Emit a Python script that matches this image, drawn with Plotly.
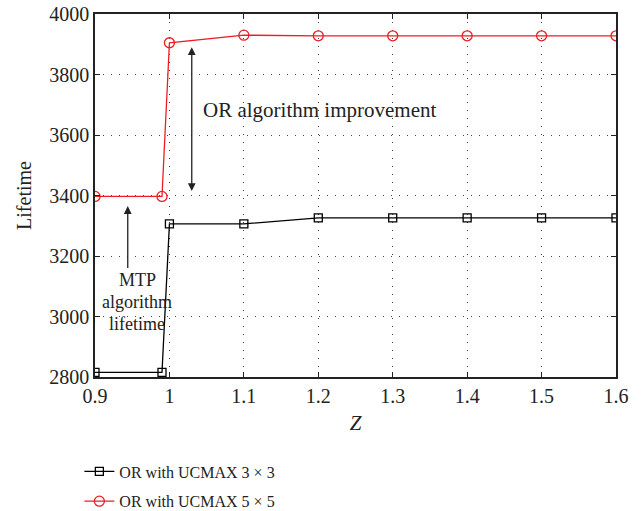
import plotly.graph_objects as go

z_values = [0.9, 0.99, 1.0, 1.1, 1.2, 1.3, 1.4, 1.5, 1.6]
ucmax3 = [2815, 2815, 3306, 3306, 3326, 3326, 3326, 3326, 3326]
ucmax5 = [3397, 3397, 3905, 3930, 3928, 3928, 3928, 3928, 3928]
series_names = ["OR with UCMAX 3 × 3", "OR with UCMAX 5 × 5"]
x_ticks = [0.9, 1.0, 1.1, 1.2, 1.3, 1.4, 1.5, 1.6]
x_tick_text = ["0.9", "1", "1.1", "1.2", "1.3", "1.4", "1.5", "1.6"]
y_ticks = [2800, 3000, 3200, 3400, 3600, 3800, 4000]
mtp_lines = ["MTP", "algorithm", "lifetime"]

FONT = "Liberation Serif, Times New Roman, serif"
INK = "#222"

fig = go.Figure()
fig.add_trace(go.Scatter(
    x=z_values, y=ucmax3, name=series_names[0], mode="lines+markers", legendgroup="a",
    line=dict(color="black", width=1.3),
    marker=dict(symbol="square-open", size=8, color="black", line=dict(width=1.3)),
))
fig.add_trace(go.Scatter(
    x=z_values, y=ucmax5, name=series_names[1], mode="lines+markers", legendgroup="b",
    line=dict(color="#ee1c25", width=1.3),
    marker=dict(symbol="circle-open", size=10, color="#ee1c25", line=dict(width=1.3)),
))

axis_common = dict(
    showline=True, linecolor=INK, linewidth=1.5, mirror="ticks",
    ticks="inside", ticklen=5, tickcolor=INK,
    showgrid=True, gridcolor="#444", griddash="1px,7px", gridwidth=1,
    zeroline=False, tickfont=dict(family=FONT, size=20, color=INK),
)
fig.update_xaxes(range=[0.9, 1.6], tickvals=x_ticks, ticktext=x_tick_text,
                 title=dict(text="<i>Z</i>", font=dict(family=FONT, size=21, color=INK), standoff=10),
                 **axis_common)
fig.update_yaxes(range=[2800, 4000], tickvals=y_ticks,
                 title=dict(text="Lifetime", font=dict(family=FONT, size=20, color=INK), standoff=12),
                 **axis_common)

# annotations
fig.add_annotation(x=1.03, y=3890, ax=1.03, ay=3410, xref="x", yref="y", axref="x", ayref="y",
                   text="", showarrow=True, arrowhead=2, startarrowhead=2, arrowside="end+start",
                   arrowwidth=1.3, arrowsize=1.2, startarrowsize=1.2, arrowcolor=INK)
fig.add_annotation(x=1.042, y=3683, xref="x", yref="y", text="OR algorithm improvement",
                   showarrow=False, xanchor="left", font=dict(family=FONT, size=21, color=INK))
fig.add_annotation(x=0.944, y=3365, ax=0.944, ay=3155, xref="x", yref="y", axref="x", ayref="y",
                   text="", showarrow=True, arrowhead=2, arrowwidth=1.3, arrowsize=1.2, arrowcolor=INK)
for txt, yv in zip(mtp_lines, [3122, 3049, 2976]):
    fig.add_annotation(x=0.957, y=yv, xref="x", yref="y", text=txt,
                       showarrow=False, font=dict(family=FONT, size=18, color=INK))

fig.update_layout(
    width=643, height=511,
    margin=dict(l=95, r=27, t=14, b=134, autoexpand=False),
    plot_bgcolor="white", paper_bgcolor="white",
    font=dict(family=FONT, size=17, color=INK),
    legend=dict(x=-0.03, y=-0.2135, xanchor="left", yanchor="top",
                font=dict(family=FONT, size=16, color=INK),
                itemwidth=30, tracegroupgap=6, bgcolor="rgba(0,0,0,0)"),
)

fig.write_html("out.html", config={"displayModeBar": False})
with open("out.html", encoding="utf-8") as f:
    html = f.read()
html = html.replace("<head>", "<head><style>html,body{margin:0;padding:0;overflow:hidden;}</style>", 1)
with open("out.html", "w", encoding="utf-8") as f:
    f.write(html)
